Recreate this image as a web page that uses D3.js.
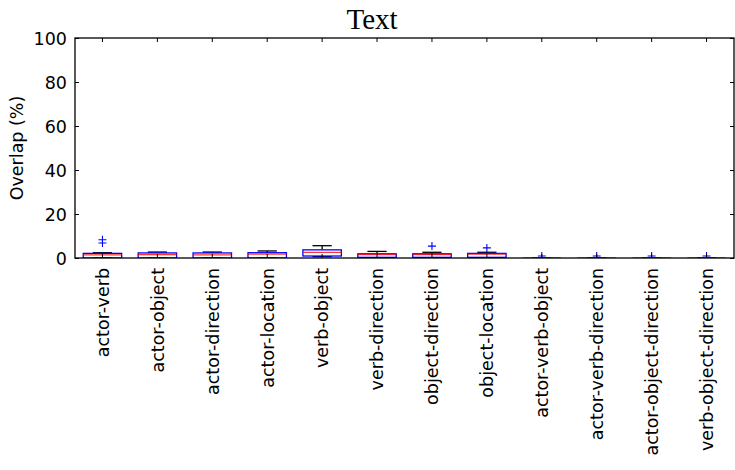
<!DOCTYPE html>
<html><head><meta charset="utf-8">
<script src="https://cdn.jsdelivr.net/npm/d3@7"></script>
<style>body{margin:0;background:#fff}svg{display:block}</style>
</head><body>
<svg id="c" width="735" height="470"></svg>
<script>
const categories = ["actor-verb","actor-object","actor-direction","actor-location","verb-object","verb-direction","object-direction","object-location","actor-verb-object","actor-verb-direction","actor-object-direction","verb-object-direction"];
const whiskerLow = [0, 0, 0, 0, 0.6, 0, 0, 0, 0, 0, 0, 0];
const q1Values = [0, 0, 0, 0, 0.9, 0.3, 0.3, 0.3, 0, 0, 0, 0];
const medianValues = [1.4, 1.5, 1.4, 1.8, 2.6, 1.5, 1.5, 1.8, 0, 0, 0, 0];
const q3Values = [2.1, 2.3, 2.3, 2.4, 3.7, 1.9, 1.9, 2.1, 0, 0, 0, 0];
const whiskerHigh = [2.4, 2.7, 2.7, 3.2, 5.6, 3.0, 2.6, 2.6, 0, 0, 0, 0];
const fliers = [[6.8, 8.3], [], [], [], [], [], [5.4], [4.6], [0.9], [0.9], [0.9], [0.9]];
const yTicks = [0, 20, 40, 60, 80, 100];

const W = 735, H = 470;
const m = {left: 75, right: 734, top: 38, bottom: 258};
const svg = d3.select("#c");
const x = d3.scaleBand().domain(categories).range([m.left, m.right]).paddingInner(0).paddingOuter(0);
const y = d3.scaleLinear().domain([0, 100]).range([m.bottom, m.top]);
const bw = x.bandwidth() * 0.7;
const cw = bw / 2;

svg.append("clipPath").attr("id", "pc").append("rect")
  .attr("x", m.left).attr("y", m.top).attr("width", m.right - m.left).attr("height", m.bottom - m.top);
const g = svg.append("g").attr("clip-path", "url(#pc)");

categories.forEach((c, i) => {
  const cx = x(c) + x.bandwidth() / 2;
  g.append("line").attr("x1", cx).attr("x2", cx).attr("y1", y(q3Values[i])).attr("y2", y(whiskerHigh[i])).attr("stroke", "#000").attr("stroke-width", 1.3);
  g.append("line").attr("x1", cx).attr("x2", cx).attr("y1", y(q1Values[i])).attr("y2", y(whiskerLow[i])).attr("stroke", "#000").attr("stroke-width", 1.3);
  g.append("line").attr("x1", cx - cw / 2).attr("x2", cx + cw / 2).attr("y1", y(whiskerHigh[i])).attr("y2", y(whiskerHigh[i])).attr("stroke", "#000").attr("stroke-width", 1.3);
  g.append("line").attr("x1", cx - cw / 2).attr("x2", cx + cw / 2).attr("y1", y(whiskerLow[i])).attr("y2", y(whiskerLow[i])).attr("stroke", "#000").attr("stroke-width", 1.3);
  g.append("rect").attr("x", cx - bw / 2).attr("y", y(q3Values[i])).attr("width", bw)
    .attr("height", Math.max(0, y(q1Values[i]) - y(q3Values[i]))).attr("fill", "none").attr("stroke", "#0000ff").attr("stroke-width", 1.3);
  g.append("line").attr("x1", cx - bw / 2).attr("x2", cx + bw / 2).attr("y1", y(medianValues[i])).attr("y2", y(medianValues[i])).attr("stroke", "#ff0000").attr("stroke-width", 1.3).attr("stroke-opacity", 0.8);
  fliers[i].forEach(v => {
    const py = y(v);
    g.append("path").attr("d", `M${cx - 4},${py}H${cx + 4}M${cx},${py - 4}V${py + 4}`).attr("stroke", "#0000ff").attr("stroke-width", 1.1).attr("fill", "none");
  });
});

const yAxisL = d3.axisLeft(y).tickValues(yTicks).tickSizeInner(-4).tickSizeOuter(0).tickPadding(8);
const yAxisR = d3.axisRight(y).tickValues(yTicks).tickSizeInner(-4).tickSizeOuter(0).tickFormat("");
const xAxisB = d3.axisBottom(x).tickSizeInner(-4).tickSizeOuter(0).tickPadding(0);
const xAxisT = d3.axisTop(x).tickSizeInner(-4).tickSizeOuter(0).tickFormat("");

const gl = svg.append("g").attr("transform", `translate(${m.left},0)`).call(yAxisL);
const gr = svg.append("g").attr("transform", `translate(${m.right},0)`).call(yAxisR);
const gb = svg.append("g").attr("transform", `translate(0,${m.bottom})`).call(xAxisB);
const gt = svg.append("g").attr("transform", `translate(0,${m.top})`).call(xAxisT);
[gl, gr, gb, gt].forEach(a => {
  a.select(".domain").remove();
  a.selectAll(".tick line").attr("stroke", "#000").attr("stroke-width", 1);
  a.selectAll("text").attr("font-family", "DejaVu Sans").attr("font-size", 17.5).attr("fill", "#000");
});
gl.selectAll(".tick text").attr("dy", "0.36em");
gb.selectAll(".tick text")
  .attr("transform", "rotate(-90)")
  .attr("text-anchor", "end")
  .attr("x", -10).attr("y", 0).attr("dy", "0.36em");

svg.append("rect").attr("x", m.left).attr("y", m.top).attr("width", m.right - m.left).attr("height", m.bottom - m.top)
  .attr("fill", "none").attr("stroke", "#000").attr("stroke-width", 1.3);

svg.append("text").attr("x", 372).attr("y", 29).attr("text-anchor", "middle")
  .attr("font-family", "Liberation Serif").attr("font-size", 29).text("Text");

svg.append("text").attr("transform", `translate(23,${(m.top + m.bottom) / 2}) rotate(-90)`)
  .attr("text-anchor", "middle").attr("font-family", "DejaVu Sans").attr("font-size", 17.5).text("Overlap (%)");
</script>
</body></html>
